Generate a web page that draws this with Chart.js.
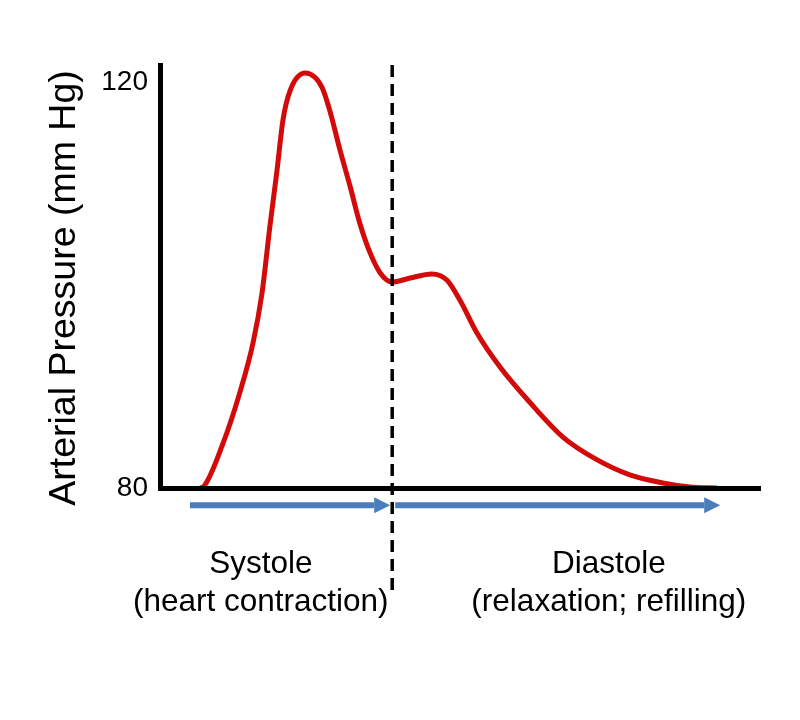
<!DOCTYPE html>
<html>
<head>
<meta charset="utf-8">
<script src="https://cdn.jsdelivr.net/npm/chart.js@4"></script>
<style>
    html , body { margin: 0; padding: 0; background: #ffffff; }
    #wrap { width: 800px; height: 720px; position: relative; }
</style>
</head>
<body>
<div id="wrap"><canvas id="pressureChart"></canvas></div>
<script>
// time (arbitrary units across one beat) and arterial pressure in mm Hg
const timeX = [6.7 , 7.2 , 10.5 , 13.3 , 15.5 , 17 , 18.3 , 19.5 , 20.5 , 21.7 , 24.2 , 27 , 28.3 , 30 , 31.7 , 33.3 , 35 , 36.7 , 38.7 , 41.7 , 45.3 , 47.8 , 50 , 52.8 , 56.7 , 61.7 , 67.2 , 72.8 , 78.3 , 83.8 , 88.3 , 92.8];
const pressure = [80 , 80.1 , 84.4 , 89.4 , 94.3 , 99.2 , 105.7 , 111.3 , 116.3 , 119.2 , 120.9 , 119.5 , 117.2 , 113.3 , 109.7 , 106.1 , 103.2 , 101.2 , 100.3 , 100.7 , 101.1 , 100.5 , 98.5 , 95.3 , 91.9 , 88.4 , 85 , 82.8 , 81.3 , 80.5 , 80.1 , 80];

const yTicks = [80 , 120];
const yRange = [80 , 121.7];
const xRange = [0 , 100];

// end of systole, start of diastole
const dividerX = 38.7;
const dividerY = [121.7 , 69.9];

const arrowY = 78.3;
const systoleArrowX = [5 , 35.7];
const diastoleArrowX = [39.2 , 90.7];

const phaseLabelX = [16.8 , 74.8];
const phaseLabels = [
    ["Systole" , "(heart contraction)"] ,
    ["Diastole" , "(relaxation; refilling)"]
];
const yTitle = "Arterial Pressure (mm Hg)";

const FONT = "'Liberation Sans', Arial, sans-serif";
const ARROW_BLUE = "#4a7ebb";

const toPoints = (xs , ys) => xs.map((x , i) => ({ x: x , y: Array.isArray(ys) ? ys[i] : ys }));

const arrowDataset = xs => ({
    data: toPoints(xs , arrowY) ,
    borderColor: ARROW_BLUE ,
    borderWidth: 6 ,
    borderCapStyle: "butt" ,
    pointRadius: 0 ,
    clip: false ,
    order: 1 ,
    arrowHead: true
});

// arrow heads sit past the last point of each arrow dataset
const arrowPlugin = {
    id: "arrowHeads" ,
    afterDatasetsDraw(chart) {
        const ctx = chart.ctx;
        ctx.save();
        chart.data.datasets.forEach((ds , i) => {
            if (!ds.arrowHead) return;
            const pts = chart.getDatasetMeta(i).data;
            const end = pts[pts.length - 1];
            ctx.fillStyle = ds.borderColor;
            ctx.beginPath();
            ctx.moveTo(end.x , end.y - 8);
            ctx.lineTo(end.x + 16 , end.y);
            ctx.lineTo(end.x , end.y + 8);
            ctx.closePath();
            ctx.fill();
        });
        ctx.restore();
    }
};

const textPlugin = {
    id: "phaseText" ,
    afterDraw(chart) {
        const ctx = chart.ctx;
        const xScale = chart.scales.x;
        ctx.save();
        ctx.fillStyle = "#000000";
        ctx.textAlign = "center";
        ctx.textBaseline = "alphabetic";
        ctx.font = `31.5px ${FONT}`;
        phaseLabels.forEach((lines , i) => {
            const cx = xScale.getPixelForValue(phaseLabelX[i]);
            ctx.fillText(lines[0] , cx , 573);
            ctx.fillText(lines[1] , cx , 611);
        });
        ctx.translate(75 , 288);
        ctx.rotate(-Math.PI / 2);
        ctx.font = `37.5px ${FONT}`;
        ctx.fillText(yTitle , 0 , 0);
        ctx.restore();
    }
};

new Chart(document.getElementById("pressureChart") , {
    type: "line" ,
    data: {
        datasets: [
            {
                data: toPoints([dividerX , dividerX] , dividerY) ,
                borderColor: "#000000" ,
                borderWidth: 3.5 ,
                borderDash: [12 , 7] ,
                pointRadius: 0 ,
                clip: false ,
                order: 0
            } ,
            arrowDataset(systoleArrowX) ,
            arrowDataset(diastoleArrowX) ,
            {
                data: toPoints(timeX , pressure) ,
                borderColor: "#d20a0a" ,
                borderWidth: 5 ,
                cubicInterpolationMode: "monotone" ,
                pointRadius: 0 ,
                clip: false ,
                order: 2
            }
        ]
    } ,
    options: {
        responsive: true ,
        maintainAspectRatio: false ,
        animation: false ,
        layout: { padding: { top: 65 , right: 40 , left: 0 , bottom: 0 } } ,
        plugins: {
            legend: { display: false } ,
            tooltip: { enabled: false }
        } ,
        scales: {
            x: {
                type: "linear" ,
                min: xRange[0] ,
                max: xRange[1] ,
                grid: { display: false , drawTicks: false } ,
                border: { display: true , color: "#000000" , width: 5 , z: 1 } ,
                ticks: { display: false } ,
                afterFit: scale => { scale.height = 232; }
            } ,
            y: {
                type: "linear" ,
                min: yRange[0] ,
                max: yRange[1] ,
                grid: { display: false , drawTicks: false } ,
                border: { display: true , color: "#000000" , width: 5 , z: 1 } ,
                afterBuildTicks: scale => { scale.ticks = yTicks.map(v => ({ value: v })); } ,
                ticks: {
                    color: "#000000" ,
                    padding: 12 ,
                    font: { size: 28 , family: FONT }
                } ,
                afterFit: scale => { scale.width = 160; }
            }
        }
    } ,
    plugins: [arrowPlugin , textPlugin]
});
</script>
</body>
</html>
